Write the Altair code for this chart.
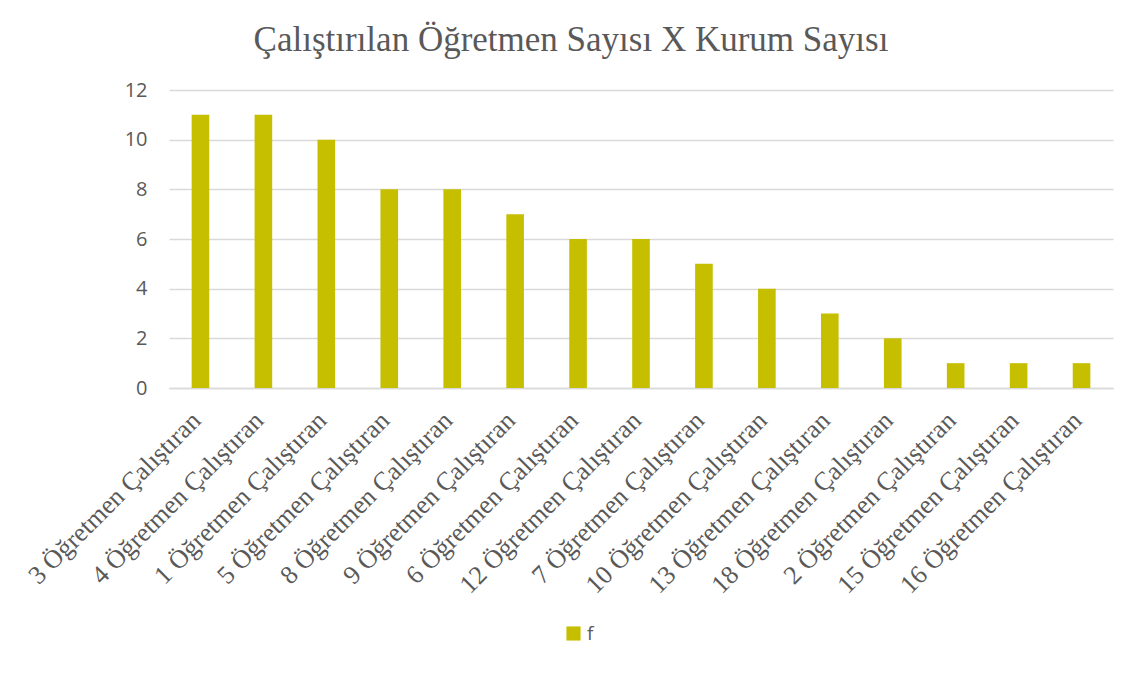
import altair as alt
import pandas as pd

categories = ["3 Öğretmen Çalıştıran", "4 Öğretmen Çalıştıran", "1 Öğretmen Çalıştıran",
              "5 Öğretmen Çalıştıran", "8 Öğretmen Çalıştıran", "9 Öğretmen Çalıştıran",
              "6 Öğretmen Çalıştıran", "12 Öğretmen Çalıştıran", "7 Öğretmen Çalıştıran",
              "10 Öğretmen Çalıştıran", "13 Öğretmen Çalıştıran", "18 Öğretmen Çalıştıran",
              "2 Öğretmen Çalıştıran", "15 Öğretmen Çalıştıran", "16 Öğretmen Çalıştıran"]
values = [11, 11, 10, 8, 8, 7, 6, 6, 5, 4, 3, 2, 1, 1, 1]
series = ["f"] * len(values)
y_ticks = [0, 2, 4, 6, 8, 10, 12]

df = pd.DataFrame({"kategori": categories, "f": values, "seri": series})

chart = alt.Chart(df).mark_bar(color="#c6bf00").encode(
    x=alt.X("kategori:N", sort=categories, title=None,
            scale=alt.Scale(paddingInner=0.72, paddingOuter=0.36),
            axis=alt.Axis(labelAngle=-45, labelAlign="right", labelBaseline="middle",
                          labelFont="Liberation Serif", labelFontSize=26,
                          labelColor="#595959", labelPadding=28, labelOffset=-4,
                          ticks=False, domainColor="#d9d9d9", domainWidth=1.5,
                          labelOverlap=False, labelLimit=400)),
    y=alt.Y("f:Q", title=None, scale=alt.Scale(domain=[0, 12]),
            axis=alt.Axis(values=y_ticks, labelFont="Open Sans", labelFontSize=20,
                          labelColor="#595959", ticks=False, domain=False,
                          gridColor="#d9d9d9", gridWidth=1.5, labelPadding=22)),
    color=alt.Color("seri:N", scale=alt.Scale(range=["#c6bf00"]),
                    legend=alt.Legend(title=None, orient="none", legendX=395, legendY=534,
                                      symbolType="square", symbolSize=200,
                                      labelFont="Open Sans", labelFontSize=19,
                                      labelColor="#595959")),
).properties(
    width=944, height=298,
    padding={"left": 161, "top": 82, "right": 22, "bottom": 276},
    autosize=alt.AutoSizeParams(type="none"),
    title=alt.TitleParams("Çalıştırılan Öğretmen Sayısı X Kurum Sayısı",
                          font="Liberation Serif", fontSize=35, fontWeight="normal",
                          color="#595959", anchor="middle", dx=-70, offset=22),
).configure_view(stroke=None)

chart.save("out.html", embed_options={"renderer": "svg", "actions": False})
